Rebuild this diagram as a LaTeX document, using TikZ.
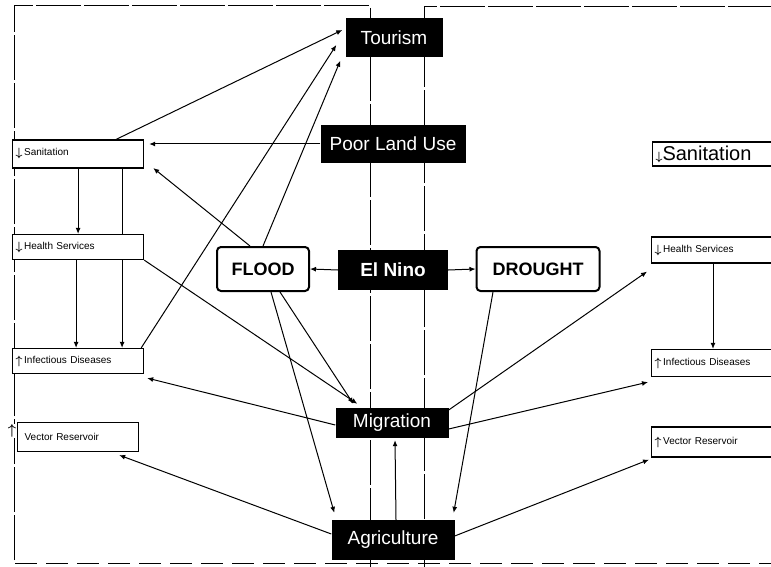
\documentclass[tikz,border=0pt]{standalone}
\usepackage{fontspec}
\setmainfont{Liberation Sans}
\usetikzlibrary{arrows.meta,backgrounds,calc}
\newcommand\arrdn{\raisebox{-1pt}{\fontsize{13}{13}\selectfont\boldmath$\downarrow$}\,}
\newcommand\arrupw{\raisebox{-1pt}{\fontsize{13}{13}\selectfont\boldmath$\uparrow$}\,}
\begin{document}
\begin{tikzpicture}[x=1pt,y=1pt,
  blk/.style={fill=black,text=white,inner sep=0pt,font=\fontsize{19}{22}\selectfont},
  wbox/.style={draw,fill=white,line width=1.2pt,inner xsep=3pt,inner ysep=0pt,anchor=west,align=left,font=\fontsize{10}{12}\selectfont},
  stamp/.style={draw,fill=white,line width=2pt,rounded corners=4pt,inner sep=0pt,font=\bfseries\fontsize{18}{20}\selectfont},
  arr/.style={-{Latex[length=6pt,width=5pt]},line width=1pt},
  frameln/.style={line width=1pt,dash pattern=on 45pt off 3pt}
]
\useasboundingbox (0,0) rectangle (771,-567);
\clip (0,0) rectangle (771,-567);

% central column
\node[blk,minimum width=97pt,minimum height=39pt] (tour) at (394,-38) {Tourism};
\node[blk,minimum width=145pt,minimum height=38pt] (plu) at (393,-144) {Poor Land Use};
\node[blk,minimum width=110pt,minimum height=40pt,font=\bfseries\fontsize{19}{22}\selectfont] (nino) at (393,-270) {El Nino};
\node[blk,minimum width=113pt,minimum height=30pt] (mig) at (392,-423) {Migration};
\node[blk,minimum width=123pt,minimum height=40pt] (agri) at (393,-540) {Agriculture};
\node[stamp,minimum width=92pt,minimum height=44pt] (flood) at (263,-269) {FLOOD};
\node[stamp,minimum width=123pt,minimum height=44pt] (drought) at (538,-269) {DROUGHT};

% left column
\node[wbox,text width=125pt,minimum height=28pt] (lsan) at (12,-154) {\arrdn Sanitation};
\node[wbox,text width=125pt,minimum height=25pt] (lhs) at (12,-247) {\arrdn Health Services};
\node[wbox,text width=125pt,minimum height=25pt] (lid) at (12,-361) {\arrupw Infectious Diseases};
\node[wbox,text width=115pt,minimum height=29pt,inner xsep=3pt] (lvr) at (17,-437) {\hspace{4pt}Vector Reservoir};
\node[inner sep=0.5pt,fill=white,font=\fontsize{15}{15}\selectfont\boldmath] (lvrup) at (12,-431) {$\uparrow$};

% right column
\node[wbox,text width=130pt,minimum height=24pt,font=\fontsize{20}{22}\selectfont] (rsan) at (652,-154) {{\fontsize{12}{12}\selectfont\boldmath$\downarrow$}Sanitation};
\node[wbox,text width=130pt,minimum height=26pt] (rhs) at (651,-250) {\arrdn Health Services};
\node[wbox,text width=130pt,minimum height=27pt] (rid) at (651,-363) {\arrupw Infectious Diseases};
\node[wbox,text width=130pt,minimum height=30pt] (rvr) at (651,-442) {\arrupw Vector Reservoir};

\begin{scope}[on background layer]
  \fill[white] (0,0) rectangle (771,-567);
  % frame lines
  \draw[frameln] (14,-560) -- (14,-6) -- (370,-6) -- (370,-567);
  \draw[frameln] (424,-567) -- (424,-7) -- (771,-7);
  \draw[line width=1pt,dash pattern=on 22pt off 9pt] (15,-563) -- (771,-563);

  % left panel
  \draw[arr] ([xshift=38pt]lsan.north) -- ([xshift=-3pt,yshift=8pt]tour.west);
  \draw[arr] (plu.west) -- ([xshift=5pt,yshift=10pt]lsan.east);
  \draw[arr] ([xshift=-13pt]flood.north) -- ([xshift=9pt,yshift=-14pt]lsan.east);
  \draw[arr] ([xshift=-3pt]lid.north east) -- ([xshift=-9pt,yshift=-7pt]tour.west);
  \draw[arr] (flood.north) -- ([xshift=-5pt,yshift=-3pt]tour.south west);
  \draw[arr] (lhs.south east) -- ([xshift=22pt,yshift=4pt]mig.north west);
  \draw[arr] ([xshift=17pt]flood.south) -- ([xshift=18pt,yshift=4pt]mig.north west);
  \draw[arr] ([xshift=8pt]flood.south) -- ([xshift=3pt,yshift=7pt]agri.north west);
  \draw[arr] ([yshift=-2pt]mig.west) -- ([xshift=3pt,yshift=-4pt]lid.south east);
  \draw[arr] ([yshift=6pt]agri.west) -- ([xshift=-20pt,yshift=-3pt]lvr.south east);
  \draw[arr] (lsan.south) -- (lhs.north);
  \draw[arr] ([xshift=44pt]lsan.south) -- ([xshift=44pt]lid.north);
  \draw[arr] ([xshift=-2pt]lhs.south) -- ([xshift=-2pt]lid.north);

  % centre
  \draw[arr] (nino.west) -- (flood.east);
  \draw[arr] (nino.east) -- (drought.west);
  \draw[arr] ([xshift=3pt]agri.north) -- ([xshift=3pt,yshift=-2pt]mig.south);

  % right panel
  \draw[arr] ([yshift=4pt]agri.east) -- ([xshift=-2pt,yshift=-2pt]rvr.south west);
  \draw[arr] ([yshift=13pt]mig.east) -- ([xshift=-4pt,yshift=-8pt]rhs.south west);
  \draw[arr] ([yshift=-6pt]mig.east) -- ([xshift=-3pt,yshift=-5pt]rid.south west);
  \draw[arr] ([xshift=-45pt]drought.south) -- ([xshift=-1pt,yshift=7pt]agri.north east);
  \draw[arr] ([xshift=62pt]rhs.south west) -- ([xshift=62pt]rid.north west);
\end{scope}
\end{tikzpicture}
\end{document}
